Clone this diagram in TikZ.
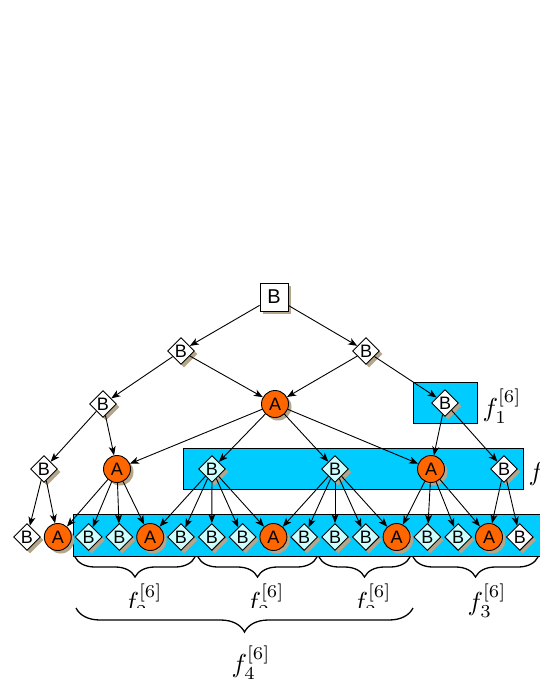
\documentclass[tikz,border=0pt]{standalone}
\usepackage{fontspec}
\newfontfamily\nodefont{Liberation Sans}
\usetikzlibrary{shapes.geometric,shadows,arrows.meta,decorations.pathreplacing}
\definecolor{orangeA}{HTML}{FF6600}
\definecolor{boxcyan}{HTML}{00CCFF}
\definecolor{lightcyan}{HTML}{CCFFFF}
\definecolor{shadowc}{HTML}{B5A58A}
\tikzset{
  nodeshadow/.style={drop shadow={shadow xshift=3pt,shadow yshift=-3pt,fill=shadowc,opacity=1}},
  bnode/.style={diamond,draw=black,line width=0.9pt,fill=white,minimum width=27pt,minimum height=27pt,inner sep=0pt,nodeshadow,font=\nodefont\fontsize{18}{18}\selectfont},
  bcnode/.style={bnode,fill=lightcyan},
  anode/.style={circle,draw=black,line width=0.9pt,fill=orangeA,minimum size=27pt,inner sep=0pt,nodeshadow,font=\nodefont\fontsize{18}{18}\selectfont},
  rootnode/.style={rectangle,draw=black,line width=0.9pt,fill=white,minimum size=28pt,inner sep=0pt,nodeshadow,font=\nodefont\fontsize{20}{20}\selectfont},
  edge/.style={line width=0.9pt,-{Stealth[length=9pt,width=7pt,inset=2.5pt]}},
  fbox/.style={draw=black,line width=0.9pt,fill=boxcyan},
  flabel/.style={inner sep=0pt,scale=2.6},
  fbrace/.style={decorate,decoration={brace,mirror,amplitude=#1},line width=1.3pt},
}
\begin{document}
\begin{tikzpicture}[x=1pt,y=-1pt]
\useasboundingbox (0,0) rectangle (540,699);
% boxes
\draw[fbox] (413,382) rectangle (477,423);
\draw[fbox] (183,448) rectangle (523,489);
\draw[fbox] (73,514) rectangle (570,556);
% nodes
\node[rootnode] (r) at (274,297) {B};
\node[bnode] (p) at (181,351) {B};
\node[bnode] (q) at (366,351) {B};
\node[bnode] (c1) at (103,404) {B};
\node[anode] (c2) at (275,404) {A};
\node[bnode] (c3) at (445,403) {B};
\node[bnode] (d1) at (44,469) {B};
\node[anode] (d2) at (117,469) {A};
\node[bcnode] (d3) at (212,469) {B};
\node[bcnode] (d4) at (335,469) {B};
\node[anode] (d5) at (431,469) {A};
\node[bnode] (d6) at (504,469) {B};
\node[bnode] (e0) at (27,537) {B};
\node[anode] (e1) at (57.8,537) {A};
\node[bcnode] (e2) at (88.6,537) {B};
\node[bcnode] (e3) at (119.4,537) {B};
\node[anode] (e4) at (150.2,537) {A};
\node[bcnode] (e5) at (181,537) {B};
\node[bcnode] (e6) at (211.8,537) {B};
\node[bcnode] (e7) at (242.6,537) {B};
\node[anode] (e8) at (273.4,537) {A};
\node[bcnode] (e9) at (304.2,537) {B};
\node[bcnode] (e10) at (335,537) {B};
\node[bcnode] (e11) at (365.8,537) {B};
\node[anode] (e12) at (396.6,537) {A};
\node[bcnode] (e13) at (427.4,537) {B};
\node[bcnode] (e14) at (458.2,537) {B};
\node[anode] (e15) at (489,537) {A};
\node[bnode] (e16) at (519.8,537) {B};
% edges
\draw[edge] (r) -- (p);
\draw[edge] (r) -- (q);
\draw[edge] (p) -- (c1);
\draw[edge] (p) -- (c2);
\draw[edge] (q) -- (c2);
\draw[edge] (q) -- (c3);
\draw[edge] (c1) -- (d1);
\draw[edge] (c1) -- (d2);
\draw[edge] (c2) -- (d2);
\draw[edge] (c2) -- (d3);
\draw[edge] (c2) -- (d4);
\draw[edge] (c2) -- (d5);
\draw[edge] (c3) -- (d5);
\draw[edge] (c3) -- (d6);
\draw[edge] (d1) -- (e0);
\draw[edge] (d1) -- (e1);
\draw[edge] (d2) -- (e1);
\draw[edge] (d2) -- (e2);
\draw[edge] (d2) -- (e3);
\draw[edge] (d2) -- (e4);
\draw[edge] (d3) -- (e4);
\draw[edge] (d3) -- (e5);
\draw[edge] (d3) -- (e6);
\draw[edge] (d3) -- (e7);
\draw[edge] (d3) -- (e8);
\draw[edge] (d4) -- (e8);
\draw[edge] (d4) -- (e9);
\draw[edge] (d4) -- (e10);
\draw[edge] (d4) -- (e11);
\draw[edge] (d4) -- (e12);
\draw[edge] (d5) -- (e12);
\draw[edge] (d5) -- (e13);
\draw[edge] (d5) -- (e14);
\draw[edge] (d5) -- (e15);
\draw[edge] (d6) -- (e15);
\draw[edge] (d6) -- (e16);
% labels of boxes
\node[flabel,anchor=west] (l1) at (482,406) {$f_1^{[6]}$};
\node[flabel,anchor=west] (l2) at (528,470) {$f_2^{[6]}$};
% braces
\draw[fbrace=20pt] (75,557) -- (195,557);
\draw[fbrace=20pt] (198,557) -- (317,557);
\draw[fbrace=20pt] (319,557) -- (410,557);
\draw[fbrace=20pt] (413,557) -- (538,557);
\begin{scope}
\clip (0,0) rectangle (540,607);
\node[flabel,anchor=north] (la) at (143,583) {$f_2^{[6]}$};
\node[flabel,anchor=north] (lb) at (265,583) {$f_2^{[6]}$};
\node[flabel,anchor=north] (lc) at (372,583) {$f_2^{[6]}$};
\end{scope}
\node[flabel,anchor=north] (ld) at (487,583) {$f_3^{[6]}$};
\draw[fbrace=24pt] (76,608) -- (413,608);
\node[flabel,anchor=north] (le) at (251,645) {$f_4^{[6]}$};
\end{tikzpicture}
\end{document}
